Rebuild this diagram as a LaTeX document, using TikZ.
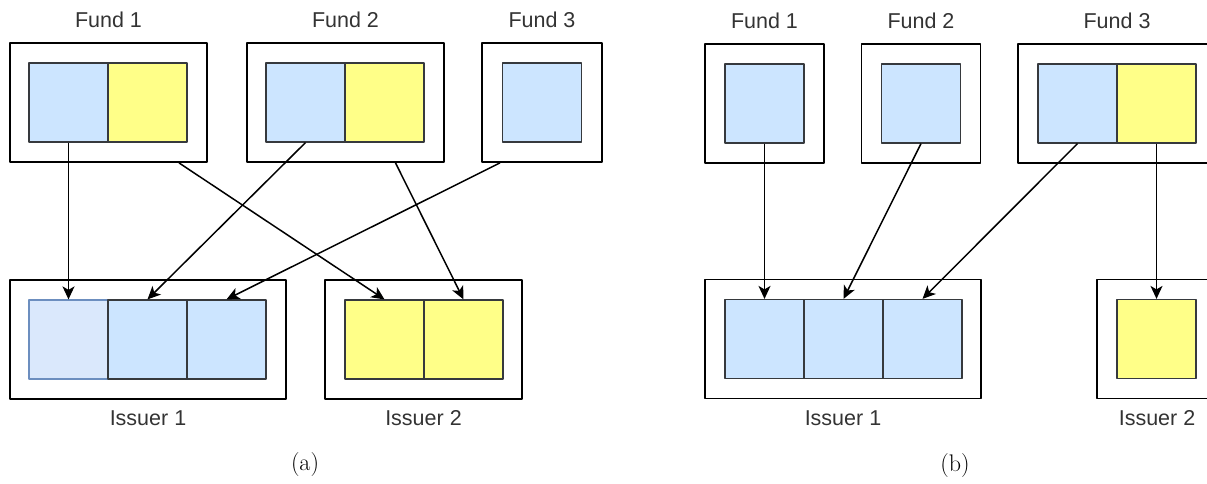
\documentclass[tikz,border=0pt]{standalone}
\usepackage{fontspec}
\setsansfont{Liberation Sans}
\usetikzlibrary{arrows.meta}
\definecolor{cellblue}{HTML}{CCE5FF}
\definecolor{paleblue}{HTML}{DAE8FC}
\definecolor{paleline}{HTML}{6C8EBF}
\definecolor{cellyellow}{HTML}{FFFF88}
\definecolor{cellline}{HTML}{36393D}
\begin{document}
\begin{tikzpicture}[x=1pt,y=-1pt,line join=round,>={Stealth[length=13pt,width=12pt,inset=3.5pt]}]
	\tikzset{
		holder/.style={draw=black,line width=1.8pt,minimum width=#1,minimum height=119pt,inner sep=0pt},
		blue cell/.style={draw=cellline,fill=cellblue,line width=1.2pt,minimum size=79pt,inner sep=0pt},
		yellow cell/.style={blue cell,fill=cellyellow},
		pale cell/.style={blue cell,draw=paleline,fill=paleblue},
		lbl/.style={font=\sffamily\fontsize{21.5}{25}\selectfont,text=black!80},
		caption/.style={font=\fontsize{24}{28}\selectfont},
		link/.style={->,line width=1.5pt}
	}
	\useasboundingbox (0,0) rectangle (1207,484);
	% (a)
	\node[holder=197pt] (aF1) at (108.5,102.5) {};
	\node[holder=197pt] (aF2) at (345.5,102.5) {};
	\node[holder=120pt] (aF3) at (542,102.5) {};
	\node[holder=276pt] (aI1) at (148,339.5) {};
	\node[holder=197pt] (aI2) at (423.5,339.5) {};
	\node[blue cell] (aF1b) at (68.5,102.5) {};
	\node[yellow cell] (aF1y) at (147.5,102.5) {};
	\node[blue cell] (aF2b) at (305.5,102.5) {};
	\node[yellow cell] (aF2y) at (384.5,102.5) {};
	\node[blue cell] (aF3b) at (542,102.5) {};
	\node[pale cell] (aI1a) at (68.5,339.5) {};
	\node[blue cell] (aI1b) at (147.5,339.5) {};
	\node[blue cell] (aI1c) at (226.5,339.5) {};
	\node[yellow cell] (aI2a) at (384.5,339.5) {};
	\node[yellow cell] (aI2b) at (463.5,339.5) {};
	\node[lbl] (aL1) at (108.5,20) {Fund 1};
	\node[lbl] (aL2) at (345.5,20) {Fund 2};
	\node[lbl] (aL3) at (542,20) {Fund 3};
	\node[lbl] (aL4) at (148,418) {Issuer 1};
	\node[lbl] (aL5) at (423.5,418) {Issuer 2};
	\node[caption] (acap) at (305,465) {(a)};
	\draw[link] (aF1b.south) -- (aI1a.north);
	\draw[link] ([xshift=70.5pt]aF1.south) -- (aI2a.north);
	\draw[link] (aF2b.south) -- (aI1b.north);
	\draw[link] ([xshift=50pt]aF2.south) -- (aI2b.north);
	\draw[link] ([xshift=-42pt]aF3.south) -- (aI1c.north);
	% (b)
	\node[holder=119pt] (bF1) at (764.5,103.5) {};
	\node[holder=119pt] (bF2) at (921,103.5) {};
	\node[holder=198pt] (bF3) at (1117,103.5) {};
	\node[holder=276pt] (bI1) at (843,339) {};
	\node[holder=119pt] (bI2) at (1156.5,339) {};
	\node[blue cell] (bF1b) at (764.5,103.5) {};
	\node[blue cell] (bF2b) at (921,103.5) {};
	\node[blue cell] (bF3b) at (1077.5,103.5) {};
	\node[yellow cell] (bF3y) at (1156.5,103.5) {};
	\node[blue cell] (bI1a) at (764.5,339) {};
	\node[blue cell] (bI1b) at (843.5,339) {};
	\node[blue cell] (bI1c) at (922.5,339) {};
	\node[yellow cell] (bI2a) at (1156.5,339) {};
	\node[lbl] (bL1) at (764.5,21) {Fund 1};
	\node[lbl] (bL2) at (921,21) {Fund 2};
	\node[lbl] (bL3) at (1117,21) {Fund 3};
	\node[lbl] (bL4) at (843,418) {Issuer 1};
	\node[lbl] (bL5) at (1157,418) {Issuer 2};
	\node[caption] (bcap) at (955,466) {(b)};
	\draw[link] (bF1b.south) -- (bI1a.north);
	\draw[link] (bF2b.south) -- (bI1b.north);
	\draw[link] (bF3b.south) -- (bI1c.north);
	\draw[link] (bF3y.south) -- (bI2a.north);
\end{tikzpicture}
\end{document}
